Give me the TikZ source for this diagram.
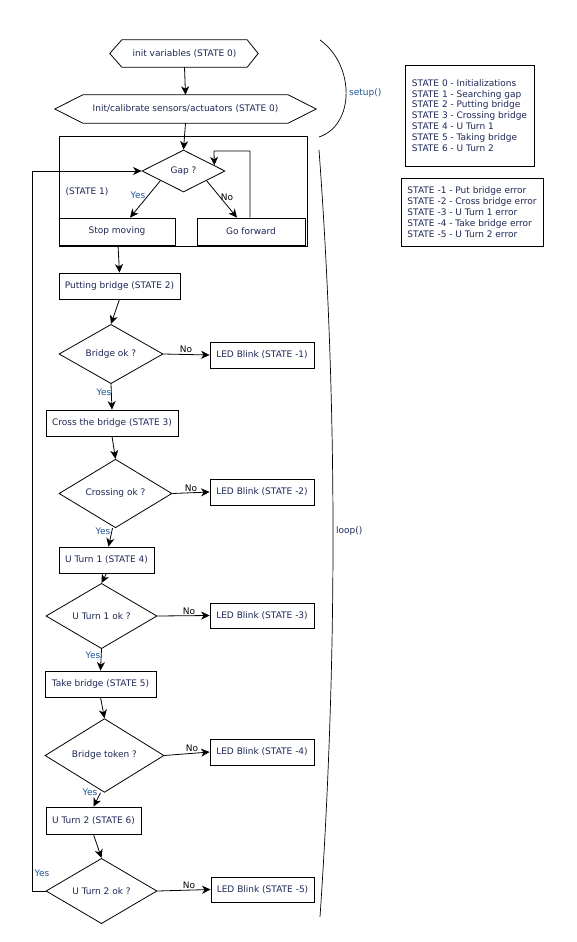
\documentclass[tikz,border=0pt]{standalone}
\usepackage{fontspec}
\setmainfont{DejaVu Sans}
\usetikzlibrary{shapes.geometric,arrows.meta,calc}
\definecolor{txt}{RGB}{30,40,85}
\definecolor{yesc}{RGB}{30,85,150}
\begin{document}
\begin{tikzpicture}[x=1pt,y=-1pt,
  every node/.style={font=\fontsize{9}{10.9}\selectfont, text=txt, inner sep=0pt},
  proc/.style={draw, rectangle, line width=0.8pt},
  dec/.style={draw, diamond, line width=0.8pt},
  hexa/.style={rectangle, draw=none},
  ln/.style={line width=0.8pt},
  arr/.style={line width=0.8pt, -{Stealth[length=8.5pt,width=8pt,inset=2.5pt]}},
  yes/.style={text=yesc},
  no/.style={text=black},
  legend/.style={draw, line width=0.8pt, align=left, inner sep=0pt}
]
\fill[white] (0,0) rectangle (576,942);
\useasboundingbox (0,0) rectangle (576,942);

% setup part
\node[hexa, minimum width=125pt, minimum height=27pt] (h1) at (184.5,53.5) {init variables (STATE 0)};
\draw[ln] (h1.north west) -- (h1.north east) -- ([xshift=11pt]h1.east) -- (h1.south east) -- (h1.south west) -- ([xshift=-12pt]h1.west) -- cycle;
\node[hexa, minimum width=205pt, minimum height=28pt] (h2) at (185.5,109) {Init/calibrate sensors/actuators (STATE 0)};
\draw[ln] (h2.north west) -- (h2.north east) -- ([xshift=28pt]h2.east) -- (h2.south east) -- (h2.south west) -- ([xshift=-28pt]h2.west) -- cycle;

% STATE 1 container
\node[proc, minimum width=248pt, minimum height=110pt] (s1box) at (183,191) {};
\node (s1lbl) at (87,192) {(STATE 1)};
\node[dec, minimum width=83pt, minimum height=42pt] (gap) at (183.5,171) {Gap ?};
\node[proc, minimum width=116pt, minimum height=27pt] (stop) at (117,231.5) {Stop moving};
\node[proc, minimum width=108pt, minimum height=27pt] (go) at (251,231.5) {Go forward};

% main chain
\node[proc, minimum width=121pt, minimum height=26pt] (pb) at (119.5,286) {Putting bridge (STATE 2)};
\node[dec, minimum width=104pt, minimum height=52pt] (bok) at (111,354) {Bridge ok ?};
\node[proc, minimum width=104pt, minimum height=26pt] (led1) at (262,355) {LED Blink (STATE -1)};
\node[proc, minimum width=132pt, minimum height=26pt] (cross) at (112,423) {Cross the bridge (STATE 3)};
\node[dec, minimum width=113pt, minimum height=57pt] (cok) at (115.5,493.5) {Crossing ok ?};
\node[proc, minimum width=104pt, minimum height=26pt] (led2) at (262,492) {LED Blink (STATE -2)};
\node[proc, minimum width=95pt, minimum height=26pt] (ut1) at (106.5,560) {U Turn 1 (STATE 4)};
\node[dec, minimum width=111pt, minimum height=54pt] (u1ok) at (101.5,616) {U Turn 1 ok ?};
\node[proc, minimum width=104pt, minimum height=25pt] (led3) at (262,615.5) {LED Blink (STATE -3)};
\node[proc, minimum width=111pt, minimum height=26pt] (take) at (100.5,684) {Take bridge (STATE 5)};
\node[dec, minimum width=119pt, minimum height=59pt] (btok) at (104.5,755.5) {Bridge token ?};
\node[proc, minimum width=104pt, minimum height=26pt] (led4) at (262,752) {LED Blink (STATE -4)};
\node[proc, minimum width=95pt, minimum height=27pt] (ut2) at (93.5,820.5) {U Turn 2 (STATE 6)};
\node[dec, minimum width=111pt, minimum height=56pt] (u2ok) at (101.5,891) {U Turn 2 ok ?};
\node[proc, minimum width=103pt, minimum height=25pt] (led5) at (262.5,889.5) {LED Blink (STATE -5)};

% legends
\node[legend, minimum width=129pt, minimum height=101pt] (leg1) at (469.5,115.5)
 {STATE 0 - Initializations\\STATE 1 - Searching gap\\STATE 2 - Putting bridge\\STATE 3 - Crossing bridge\\STATE 4 - U Turn 1\\STATE 5 - Taking bridge\\STATE 6 - U Turn 2};
\node[legend, minimum width=142pt, minimum height=68pt] (leg2) at (472,212)
 {STATE -1 - Put bridge error\\STATE -2 - Cross bridge error\\STATE -3 - U Turn 1 error\\STATE -4 - Take bridge error\\STATE -5 - U Turn 2 error};

% braces
\coordinate (sa) at (320,40);
\coordinate (sb) at (319,137);
\draw[line width=0.7pt] (sa) .. controls (355,65) and (355,125) .. (sb);
\node[anchor=west, text=yesc] (setuplbl) at (349,93) {setup()};
\coordinate (la) at (319,150);
\coordinate (lb) at (320,917);
\draw[line width=0.7pt] (la) .. controls (337.5,400) and (337.5,660) .. (lb);
\node[anchor=west] (looplbl) at (336,531) {loop()};

% connectors
\draw[arr] (h1.south) -- (h2.north);
\draw[arr] (h2.south) -- (gap.north);
\draw[arr] ($(gap.west)!0.45!(gap.south)$) -- ([xshift=13pt]stop.north);
\draw[arr] ($(gap.east)!0.45!(gap.south)$) -- ([xshift=-14pt]go.north);
\coordinate (lp) at (214,151);
\draw[arr] ([xshift=-1pt]go.north) |- (lp) -- ($(gap.north)!0.735!(gap.east)$);
\node[yes] (yg) at (138,195) {Yes};
\node[no] (ng) at (227,197) {No};

\draw[arr] ([xshift=1pt]stop.south) -- (pb.north);
\draw[arr] (pb.south) -- (bok.north);
\draw[arr] (bok.east) -- (led1.west);
\node[no] (n1) at (186,349) {No};
\draw[arr] (bok.south) -- (cross.north);
\node[yes] (y1) at (104,392) {Yes};
\draw[arr] (cross.south) -- (cok.north);
\draw[arr] (cok.east) -- (led2.west);
\node[no] (n2) at (191,488) {No};
\draw[arr] ([xshift=-3pt]cok.south) -- ([xshift=2pt]ut1.north);
\node[yes] (y2) at (103,531) {Yes};
\draw[arr] (ut1.south) -- (u1ok.north);
\draw[arr] (u1ok.east) -- (led3.west);
\node[no] (n3) at (189,611) {No};
\draw[arr] (u1ok.south) -- (take.north);
\node[yes] (y3) at (93,655) {Yes};
\draw[arr] (take.south) -- (btok.north);
\draw[arr] (btok.east) -- (led4.west);
\node[no] (n4) at (192,748) {No};
\draw[arr] ([xshift=-4pt]btok.south) -- (ut2.north);
\node[yes] (y4) at (90,792) {Yes};
\draw[arr] (ut2.south) -- (u2ok.north);
\draw[arr] (u2ok.east) -- (led5.west);
\node[no] (n5) at (189,885) {No};
\coordinate (lt) at (32,171);
\draw[arr] (u2ok.west) -| (lt) -- (gap.west);
\node[yes] (y5) at (42,873) {Yes};
\end{tikzpicture}
\end{document}
